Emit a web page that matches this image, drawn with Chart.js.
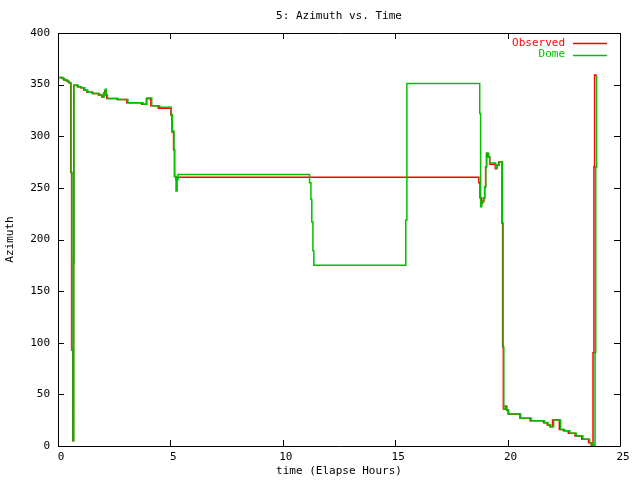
<!DOCTYPE html>
<html><head><meta charset="utf-8">
<script src="https://cdn.jsdelivr.net/npm/chart.js@4/dist/chart.umd.min.js"></script>
<style>html,body{margin:0;padding:0;background:#fff;}</style>
</head><body>
<canvas id="c" width="640" height="480"></canvas>
<script>
const titleText = '5: Azimuth vs. Time';
const xTitle = 'time (Elapse Hours)';
const yTitle = 'Azimuth';
const seriesNames = ['Observed', 'Dome'];
const xTicks = [0, 5, 10, 15, 20, 25];
const yTicks = [0, 50, 100, 150, 200, 250, 300, 350, 400];

const obsTime = [0.00,0.18,0.26,0.38,0.45,0.50,0.565,0.605,0.655,0.69,0.70,0.86,1.00,1.15,1.29,1.52,1.80,1.95,2.03,2.08,2.13,2.17,2.63,3.06,3.72,3.93,4.13,4.46,5.02,5.07,5.14,5.18,5.24,5.30,18.72,18.77,18.85,18.89,18.94,18.98,19.02,19.06,19.11,19.21,19.45,19.52,19.60,19.75,19.78,19.81,19.90,19.95,20.02,20.55,21.00,21.60,21.76,21.88,22.00,22.30,22.48,22.70,23.00,23.30,23.60,23.72,23.80,23.84,23.87,23.93];
const obsAz   = [357,356,354.5,353.5,352.5,351.5,265,93,5,177,349.5,348,347,344.5,342.5,341.5,340,338,342,344,340,336.5,335.5,332.5,331,336.4,329.5,327,320.5,304,287,261,258,260.3,255,240.5,235,237,240,251,270.5,283.5,280,272.8,268.5,272,275,215.7,96,35.8,38.7,34.9,31,26.8,24.5,22.6,20.3,18.7,25.2,16.1,14.8,12.3,9.7,6.5,3.2,0.7,90.4,270.5,359.3,358];

const domeTime = [0.00,0.22,0.30,0.42,0.48,0.52,0.58,0.62,0.665,0.70,0.71,0.90,1.04,1.19,1.33,1.56,1.85,2.00,2.05,2.10,2.15,2.20,2.67,3.11,3.78,3.95,4.17,4.52,5.04,5.09,5.16,5.19,5.25,5.30,5.34,11.19,11.25,11.29,11.34,11.38,15.47,15.52,18.76,18.80,18.85,18.94,18.98,19.03,19.07,19.16,19.20,19.47,19.53,19.62,19.77,19.80,19.83,19.92,19.97,20.05,20.58,21.06,21.65,21.80,21.92,22.05,22.36,22.54,22.77,23.06,23.35,23.65,23.75,23.89,23.92,23.96];
const domeAz   = [357,356,354.5,353.5,352.5,351.5,265,93,5,177,349.5,348,347,344.5,342.5,341.5,340,338,342,345.5,340,336.5,335.5,332.5,331,337,329.5,328,320.5,305,287,261,247,258,263,255,239,217,189,175,219,351,322,231.7,236.6,240,251,270.5,283.5,280,274,269,272,275,215.7,96,35.8,38,34.9,31,26.8,24.5,22.6,20.3,18.7,25.2,16.1,14.8,12.3,9.7,6.5,3.2,0.7,90.4,270,358.4];

const RED = '#ff0000';
const GREEN = '#00c000';
const FONT = '"DejaVu Sans Mono", "Liberation Mono", monospace';

function pts(t, v) { return t.map((x, i) => ({x: x, y: v[i]})); }

const gnuFrame = {
  id: 'gnuFrame',
  afterDraw(chart) {
    const {ctx, chartArea: a, scales: {x, y}} = chart;
    ctx.save();
    ctx.strokeStyle = '#000';
    ctx.lineWidth = 1;
    ctx.beginPath();
    ctx.rect(Math.round(a.left) + 0.5, Math.round(a.top) + 0.5, Math.round(a.right - a.left), Math.round(a.bottom - a.top));
    xTicks.forEach(v => {
      const px = Math.round(x.getPixelForValue(v)) + 0.5;
      ctx.moveTo(px, a.bottom); ctx.lineTo(px, a.bottom - 6);
      ctx.moveTo(px, a.top); ctx.lineTo(px, a.top + 6);
    });
    yTicks.forEach(v => {
      const py = Math.round(y.getPixelForValue(v)) + 0.5;
      ctx.moveTo(a.left, py); ctx.lineTo(a.left + 6, py);
      ctx.moveTo(a.right, py); ctx.lineTo(a.right - 6, py);
    });
    ctx.stroke();
    ctx.font = '11px ' + FONT;
    ctx.textBaseline = 'middle';
    ctx.textAlign = 'center';
    ctx.fillStyle = '#000';
    ctx.fillText(titleText, (a.left + a.right) / 2, 16);
    ctx.textAlign = 'right';
    const cols = [RED, GREEN];
    seriesNames.forEach((n, i) => {
      const ly = a.top + 10 + i * 11.5;
      ctx.fillStyle = cols[i];
      ctx.fillText(n, a.right - 55, ly);
      ctx.strokeStyle = cols[i];
      ctx.lineWidth = 1.5;
      ctx.beginPath();
      ctx.moveTo(a.right - 47, Math.round(ly) + 0.5);
      ctx.lineTo(a.right - 13, Math.round(ly) + 0.5);
      ctx.stroke();
    });
    ctx.restore();
  }
};

new Chart(document.getElementById('c'), {
  type: 'line',
  data: {
    datasets: [
      {label: seriesNames[0], data: pts(obsTime, obsAz), borderColor: RED, backgroundColor: RED, order: 1},
      {label: seriesNames[1], data: pts(domeTime, domeAz), borderColor: GREEN, backgroundColor: GREEN, order: 0}
    ]
  },
  options: {
    responsive: false,
    animation: false,
    devicePixelRatio: 1,
    layout: {padding: {top: 33, right: 20, left: 0, bottom: 0}},
    elements: {
      line: {borderWidth: 1.5, tension: 0, stepped: 'before', fill: false},
      point: {radius: 0, hoverRadius: 0}
    },
    plugins: {legend: {display: false}, tooltip: {enabled: false}, title: {display: false}},
    scales: {
      x: {
        type: 'linear', min: 0, max: 25,
        grid: {display: false, drawTicks: false}, border: {display: false},
        ticks: {stepSize: 5, autoSkip: false, maxRotation: 0, padding: 5, labelOffset: 3, color: '#000', font: {family: FONT, size: 11}},
        title: {display: true, text: xTitle, color: '#000', font: {family: FONT, size: 11}, padding: {top: 0, bottom: 2}},
        afterFit(s) { s.height = 34; }
      },
      y: {
        type: 'linear', min: 0, max: 400,
        grid: {display: false, drawTicks: false}, border: {display: false},
        ticks: {stepSize: 50, autoSkip: false, padding: 8, color: '#000', font: {family: FONT, size: 11}},
        title: {display: true, text: yTitle, color: '#000', font: {family: FONT, size: 11}, padding: {top: 4, bottom: 0}},
        afterFit(s) { s.width = 58; }
      }
    }
  },
  plugins: [gnuFrame]
});
</script>
</body></html>
